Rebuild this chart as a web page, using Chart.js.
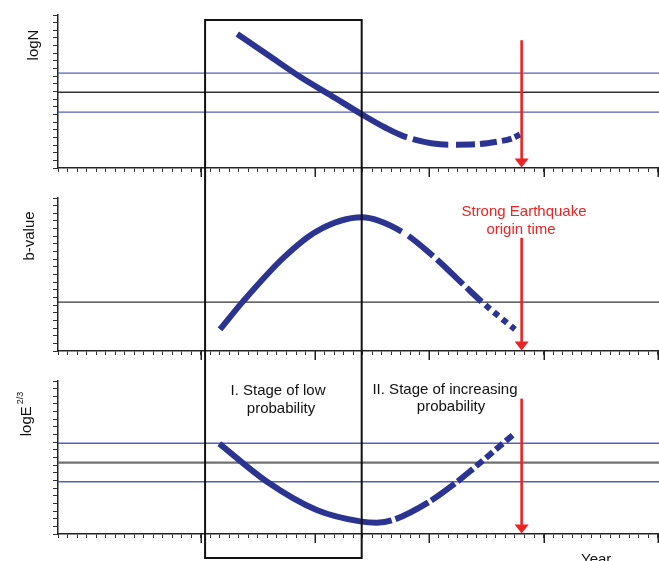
<!DOCTYPE html>
<html>
<head>
<meta charset="utf-8">
<script src="https://cdn.jsdelivr.net/npm/chart.js@4.4.1/dist/chart.umd.min.js"></script>
<style>
body { margin: 0; background: #fff; font-family: "Liberation Sans", Arial, sans-serif; }
#wrap { position: relative; width: 659px; height: 561px; overflow: hidden; }
canvas { position: absolute; left: 0; }
.lbl { position: absolute; font-size: 15px; color: #111; white-space: nowrap; line-height: 1; z-index: 2; }
.c { transform: translate(-50%, -50%); }
.rot { transform: translate(-50%, -50%) rotate(-90deg); }
.red { color: #ee2222; }
.sup { font-size: 9px; position: relative; top: -8px; margin-left: 2px; }
</style>
</head>
<body>
<div id="wrap">
  <canvas id="c1" width="659" height="183" style="top:0"></canvas>
  <canvas id="c2" width="659" height="183" style="top:183px"></canvas>
  <canvas id="c3" width="659" height="195" style="top:366px"></canvas>

  <div class="lbl rot" style="left:32px;top:45px">logN</div>
  <div class="lbl rot" style="left:28px;top:236px">b-value</div>
  <div class="lbl rot" style="left:25px;top:414px">logE<span class="sup">2/3</span></div>

  <div class="lbl c red" style="left:524px;top:210px">Strong Earthquake</div>
  <div class="lbl c red" style="left:521px;top:228px">origin time</div>

  <div class="lbl c" style="left:278px;top:389px">I. Stage of low</div>
  <div class="lbl c" style="left:281px;top:407px">probability</div>
  <div class="lbl c" style="left:445px;top:388px">II. Stage of increasing</div>
  <div class="lbl c" style="left:451px;top:405px">probability</div>

  <div class="lbl" style="left:581px;top:551px">Year</div>
</div>

<script>
// x in months, 0 at the vertical axis, a long tick every 12
const xMax = 63.13;
const majorTicks = [15, 27, 39, 51, 63];
const boxLeft = 15.45;
const boxRight = 31.9;
const quakeTime = 48.7;

// logN
const logNx = [18.83, 22.06, 25.42, 28.68, 31.9, 34.35, 36.66, 41.07, 43.8, 46.11, 47.69, 48.53];
const logNy = [17.51, 14.77, 11.93, 9.48, 7.02, 5.29, 3.99, 3.05, 3.1, 3.44, 3.86, 4.38];
const logNLevels = [12.4, 9.9, 7.3];

// b-value
const bx = [17.02, 19.46, 23.67, 27.17, 31.9, 36.1, 39.42, 42.57, 44.5, 48.0];
const by = [2.83, 6.52, 12.18, 15.65, 17.47, 15.61, 12.39, 8.7, 6.44, 2.83];
const bLevels = [6.4];

// logE^(2/3)
const logEx = [16.94, 21.92, 27.17, 31.9, 33.48, 35.05, 38.9, 41.7, 43.59, 47.83];
const logEy = [11.82, 6.87, 3.15, 1.62, 1.48, 1.77, 4.14, 6.61, 8.52, 13.0];
const logELevels = [11.86, 9.32, 6.83];

// where the red arrows start (y units)
const arrowTop = [16.7, 14.8, 17.7];

const navy = '#2b3591';
const blue = '#5560b8';

function makePanel(id, xs, ys, levels, levelStyle, dashes, extra) {
    const curve = xs.map((x, i) => ({x: x, y: ys[i]}));
    const datasets = [{
        data: curve,
        borderColor: navy,
        borderWidth: 6,
        borderCapStyle: 'butt',
        pointRadius: 0,
        cubicInterpolationMode: 'monotone',
        order: 1,
        segment: {
            borderDash: ctx => dashes[ctx.p0DataIndex] || undefined,
            borderDashOffset: ctx => dashes[ctx.p0DataIndex] ? dashes[ctx.p0DataIndex][0] : 0
        }
    }];
    levels.forEach((v, i) => {
        datasets.push({
            data: [{x: 0, y: v}, {x: xMax, y: v}],
            borderColor: levelStyle[i][0],
            borderWidth: levelStyle[i][1],
            pointRadius: 0,
            order: 2
        });
    });

    return new Chart(document.getElementById(id), {
        type: 'line',
        data: {datasets: datasets},
        options: {
            responsive: false,
            animation: false,
            events: [],
            layout: {padding: {top: 15, left: 0, right: 0, bottom: 0}},
            plugins: {
                legend: {display: false},
                tooltip: {enabled: false},
                overlay: extra
            },
            scales: {
                x: {
                    type: 'linear', min: 0, max: xMax,
                    ticks: {display: false, stepSize: 1, includeBounds: false, autoSkip: false},
                    grid: {drawOnChartArea: false, tickLength: 4, tickColor: '#333', tickWidth: 1},
                    border: {color: '#222', width: 1.5},
                    afterFit: s => { s.height = extra.bottomSpace; }
                },
                y: {
                    type: 'linear', min: 0, max: 20,
                    ticks: {display: false, stepSize: 1, autoSkip: false},
                    grid: {drawOnChartArea: false, tickLength: 5, tickColor: '#333', tickWidth: 1},
                    border: {color: '#222', width: 1.5},
                    afterFit: s => { s.width = 58; }
                }
            }
        },
        plugins: [overlay]
    });
}

// long year ticks, the stage box and the red arrow
const overlay = {
    id: 'overlay',
    afterDatasetsDraw(chart, args, opts) {
        const ctx = chart.ctx;
        const x = chart.scales.x;
        const y = chart.scales.y;
        ctx.save();

        ctx.strokeStyle = '#222';
        ctx.lineWidth = 1.5;
        majorTicks.forEach(v => {
            const px = Math.round(x.getPixelForValue(v)) + 0.25;
            ctx.beginPath();
            ctx.moveTo(px, y.bottom);
            ctx.lineTo(px, y.bottom + 9);
            ctx.stroke();
        });

        const l = x.getPixelForValue(boxLeft);
        const r = x.getPixelForValue(boxRight);
        const top = opts.boxTop != null ? y.getPixelForValue(opts.boxTop) : 0;
        const bottom = opts.boxBottom ? chart.height - 3 : chart.height;
        ctx.strokeStyle = '#111';
        ctx.lineWidth = 2;
        ctx.beginPath();
        ctx.moveTo(l, top - 1);
        ctx.lineTo(l, bottom + 1);
        ctx.moveTo(r, top - 1);
        ctx.lineTo(r, bottom + 1);
        if (opts.boxTop != null) {
            ctx.moveTo(l, top);
            ctx.lineTo(r, top);
        }
        if (opts.boxBottom) {
            ctx.moveTo(l, bottom);
            ctx.lineTo(r, bottom);
        }
        ctx.stroke();

        const ax = x.getPixelForValue(quakeTime);
        const tip = y.getPixelForValue(0) - 0.5;
        ctx.strokeStyle = '#ee2222';
        ctx.fillStyle = '#ee2222';
        ctx.lineWidth = 2.6;
        ctx.beginPath();
        ctx.moveTo(ax, y.getPixelForValue(opts.arrowFrom));
        ctx.lineTo(ax, tip - 7);
        ctx.stroke();
        ctx.beginPath();
        ctx.moveTo(ax - 7, tip - 9);
        ctx.lineTo(ax + 7, tip - 9);
        ctx.lineTo(ax, tip);
        ctx.closePath();
        ctx.fill();

        ctx.restore();
    }
};

makePanel('c1', logNx, logNy, logNLevels,
    [[blue, 1.3], ['#333', 1.3], [blue, 1.3]],
    [null, null, null, null, null, null, [36, 6], [19, 7], [17, 5], [10, 5], [6, 3]],
    {bottomSpace: 15, boxTop: 19.35, arrowFrom: arrowTop[0]});

makePanel('c2', bx, by, bLevels,
    [['#333', 1.3]],
    [null, null, null, null, null, [32, 8], [36, 5], [20.7, 4.6], [6, 5]],
    {bottomSpace: 15, arrowFrom: arrowTop[1]});

makePanel('c3', logEx, logEy, logELevels,
    [[blue, 1.3], ['#707070', 2.2], [blue, 1.3]],
    [null, null, null, null, null, [37, 4], [29, 3.5], [20, 3.5], [9, 4]],
    {bottomSpace: 27, boxBottom: true, arrowFrom: arrowTop[2]});
</script>
</body>
</html>
